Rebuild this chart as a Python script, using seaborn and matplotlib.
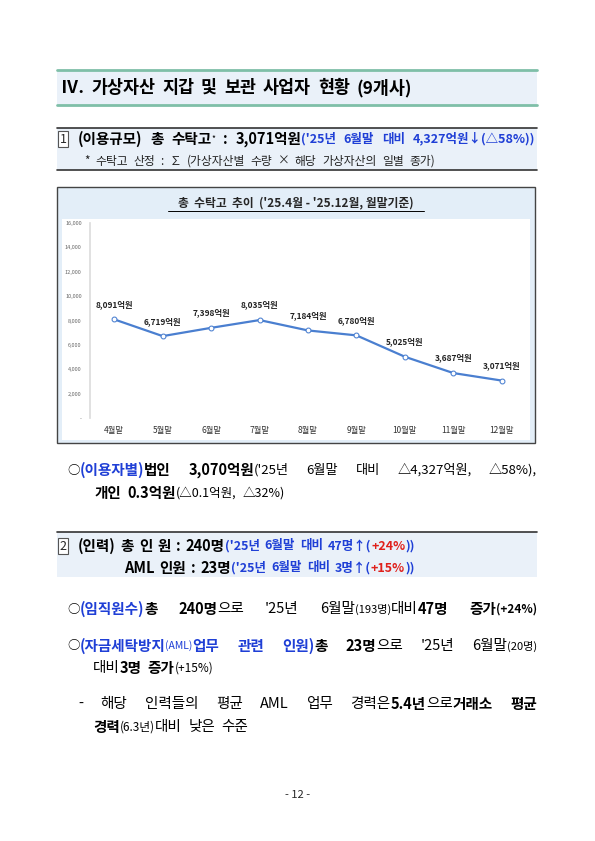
import matplotlib
matplotlib.use("Agg")
import matplotlib.pyplot as plt
import seaborn as sns
import pandas as pd
from matplotlib.patches import Rectangle

sns.set_theme(style="white")
plt.rcParams['font.family'] = ['Noto Sans CJK KR', 'DejaVu Sans']

# 데이터
months = ['4월말', '5월말', '6월말', '7월말', '8월말', '9월말', '10월말', '11월말', '12월말']
custody = [8091, 6719, 7398, 8035, 7184, 6780, 5025, 3687, 3071]
yticks = [0, 2000, 4000, 6000, 8000, 10000, 12000, 14000, 16000]

W, H = 595, 841
fig = plt.figure(figsize=(W / 100, H / 100), dpi=100)
bg = fig.add_axes([0, 0, 1, 1])
bg.set_xlim(0, W)
bg.set_ylim(H, 0)
bg.axis('off')

BLUE = '#1f3fd6'
RED = '#e0201b'
PALE = '#eaf1f9'
renderer = fig.canvas.get_renderer()


def runs(x, y, parts, size=11, right=None, gap=0):
    # parts: (text, color, weight, size); 단어 단위로 나눠서 right 기준 양쪽 정렬
    words = []
    for p in parts:
        txt, col, wt = p[0], p[1], p[2]
        sz = p[3] if len(p) > 3 else size
        pieces = txt.split(' ')
        for k, w in enumerate(pieces):
            if w:
                words.append([w, col, wt, sz, k > 0])
            elif k > 0 and words:
                pass
            if k > 0 and not w:
                words.append(['', col, wt, sz, True])
    words = [w for w in words if w[0] or w[4]]
    arts = []
    for w in words:
        t = bg.text(0, y, w[0], color=w[1], fontweight=w[2], fontsize=w[3], va='center', ha='left')
        arts.append((t, t.get_window_extent(renderer).width, w[4] and bool(w[0])))
    total = sum(a[1] for a in arts)
    n_sp = sum(1 for a in arts if a[2])
    sp = 4 + gap
    if right is not None and n_sp:
        sp = max(3, (right - x - total) / n_sp)
    for t, wd, brk in arts:
        if brk:
            x += sp
        t.set_x(x)
        x += wd


# 섹션 제목
bg.add_patch(Rectangle((57, 70), 480, 35, color=PALE, lw=0))
bg.plot([57, 537], [70, 70], color='#7fbfa8', lw=2)
bg.plot([57, 537], [105, 105], color='#7fbfa8', lw=2)
runs(61, 88, [('Ⅳ. 가상자산 지갑 및 보관 사업자 현황 (9개사)', 'black', 'bold', 12.5)], gap=3)

# ① 박스
bg.add_patch(Rectangle((57, 128), 480, 42, color=PALE, lw=0))
bg.plot([57, 537], [128, 128], color='#333333', lw=1.2)
bg.plot([57, 537], [170, 170], color='#333333', lw=1.2)
bg.text(63, 139, '1', fontsize=9, va='center', ha='center',
        bbox=dict(boxstyle='square,pad=0.15', fc='white', ec='#555555', lw=0.8))
runs(78, 139, [('(이용규모) 총 수탁고', 'black', 'bold', 10.5), ('*', 'black', 'normal', 6),
               (' : 3,071억원 ', 'black', 'bold', 10.5),
               ("('25년 6월말 대비 4,327억원↓(△58%))", BLUE, 'bold', 9)], right=535)
runs(84, 161, [('* 수탁고 산정 : ∑ (가상자산별 수량 × 해당 가상자산의 일별 종가)', '#222222', 'normal', 8.5)], gap=1.5)

# 차트 박스
bg.add_patch(Rectangle((57, 187), 478, 256, fc='#e3eef8', ec='#444444', lw=1))
bg.add_patch(Rectangle((62, 219), 468, 221, fc='white', lw=0))
bg.text(296, 203, "총  수탁고  추이  ('25.4월 - '25.12월, 월말기준)", fontsize=8.5,
        fontweight='bold', ha='center', va='center')
bg.plot([168, 424], [211, 211], color='black', lw=0.7)

df = pd.DataFrame({'month': months, 'value': custody})
ax = fig.add_axes([90 / W, 1 - 418 / H, 436 / W, 195 / H])
sns.lineplot(data=df, x='month', y='value', ax=ax, color='#4a7fd0', lw=1.6,
             marker='o', markersize=3.5, markerfacecolor='white', markeredgecolor='#4a7fd0')
ax.set_facecolor('none')
ax.set_xlim(-0.5, 8.5)
ax.set_ylim(0, 16000)
ax.set_yticks(yticks)
ax.set_yticklabels(['-'] + [f'{v:,}' for v in yticks[1:]], fontsize=4, color='#666666')
ax.set_xticks(range(len(months)))
ax.set_xticklabels(months, fontsize=6, color='#333333')
ax.set_xlabel('')
ax.set_ylabel('')
for s in ['top', 'right', 'bottom']:
    ax.spines[s].set_visible(False)
ax.spines['left'].set_color('#dddddd')
ax.tick_params(axis='both', length=0, pad=6)
for i, v in enumerate(custody):
    ax.annotate(f'{v:,}억원', (i, v), xytext=(0, 9), textcoords='offset points',
                ha='center', fontsize=6, fontweight='bold', color='#222222')

# 이용자별
runs(67, 470, [('○', 'black', 'normal', 9), ('(이용자별) ', BLUE, 'bold', 10.5),
               ('법인 3,070억원', 'black', 'bold', 10.5),
               ("('25년 6월말 대비 △4,327억원, △58%),", 'black', 'normal', 9.5)], right=537)
runs(95, 493, [('개인 0.3억원', 'black', 'bold', 10.5), ('(△0.1억원, △32%)', 'black', 'normal', 9)], gap=2)

# ② 박스
bg.add_patch(Rectangle((57, 532), 480, 45, color=PALE, lw=0))
bg.plot([57, 537], [532, 532], color='#333333', lw=1.2)
bg.text(63, 546, '2', fontsize=9, va='center', ha='center',
        bbox=dict(boxstyle='square,pad=0.15', fc='white', ec='#555555', lw=0.8))
runs(78, 546, [('(인력) 총 인 원 : 240명 ', 'black', 'bold', 10.5),
               ("('25년 6월말 대비 47명↑(", BLUE, 'bold', 9), ('+24%', RED, 'bold', 9), ('))', BLUE, 'bold', 9)], gap=1)
runs(124, 568, [('AML 인원 :  23명 ', 'black', 'bold', 10.5),
                ("('25년 6월말 대비 3명↑(", BLUE, 'bold', 9), ('+15%', RED, 'bold', 9), ('))', BLUE, 'bold', 9)], gap=1)

runs(67, 609, [('○', 'black', 'normal', 9), ('(임직원수) ', BLUE, 'bold', 10.5),
               ('총 240명', 'black', 'bold', 10.5), ("으로 '25년 6월말", 'black', 'normal', 10.5),
               ('(193명) ', 'black', 'normal', 8), ('대비 ', 'black', 'normal', 10.5),
               ('47명 증가', 'black', 'bold', 10.5), ('(+24%)', 'black', 'bold', 8.5)], right=537)
runs(67, 646, [('○', 'black', 'normal', 9), ('(자금세탁방지', BLUE, 'bold', 10.5),
               ('(AML) ', BLUE, 'normal', 7.5), ('업무 관련 인원) ', BLUE, 'bold', 10.5),
               ('총 23명', 'black', 'bold', 10.5), ("으로 '25년 6월말", 'black', 'normal', 10.5),
               ('(20명)', 'black', 'normal', 8)], right=537)
runs(93, 668, [('대비 ', 'black', 'normal', 10.5), ('3명 증가', 'black', 'bold', 10.5),
               ('(+15%)', 'black', 'normal', 8.5)], gap=2)
runs(78, 704, [('- 해당 인력들의 평균 AML 업무 경력은 ', 'black', 'normal', 10.5),
               ('5.4년', 'black', 'bold', 10.5), ('으로 ', 'black', 'normal', 10.5),
               ('거래소 평균', 'black', 'bold', 10.5)], right=537)
runs(93, 727, [('경력', 'black', 'bold', 10.5), ('(6.3년) ', 'black', 'normal', 8.5),
               ('대비 낮은 수준', 'black', 'normal', 10.5)], gap=2.5)

bg.text(298, 795, '- 12 -', fontsize=8, ha='center', va='center')

fig.savefig('out.png', dpi=100)
